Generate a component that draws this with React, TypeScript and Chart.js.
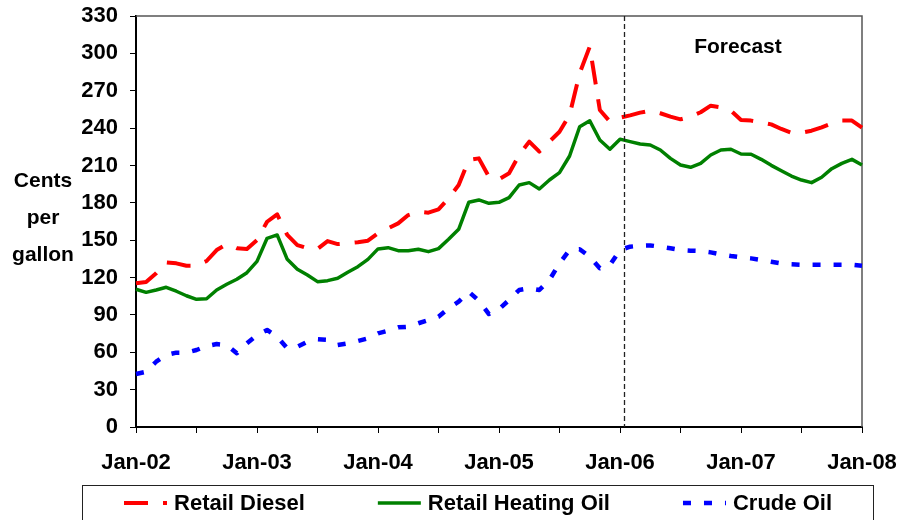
import React, { useEffect, useRef } from 'react';
import { Chart, registerables } from 'chart.js';

Chart.register(...registerables);

const FONT_FAMILY = "'Liberation Sans', Arial, Helvetica, sans-serif";

// ---- categories (monthly, Jan-02 .. Jan-08) ----
const MONTH_NAMES = ['Jan', 'Feb', 'Mar', 'Apr', 'May', 'Jun', 'Jul', 'Aug', 'Sep', 'Oct', 'Nov', 'Dec'];
const START_YEAR = 2002;
const MONTH_COUNT = 73;
const categories: string[] = [];
for (let i = 0; i < MONTH_COUNT; i++) {
  const yr = START_YEAR + Math.floor(i / 12);
  categories.push(`${MONTH_NAMES[i % 12]}-${String(yr % 100).padStart(2, '0')}`);
}

// ---- axis ----
const Y_MIN = 0;
const Y_MAX = 330;
const Y_STEP = 30;
const X_LABEL_EVERY = 12;
const X_TICK_EVERY = 6;
const yAxisTitle = ['Cents', 'per', 'gallon'];

// ---- series ----
const retailDiesel = [
  115.4, 116.4, 123.4, 132.2, 131.4, 129.5, 129.5, 133.3, 142.1, 146.9, 143.5, 142.9,
  150.1, 164.8, 170.8, 154.2, 146.1, 143.5, 143.0, 149.3, 146.9, 147.5, 148.3, 149.6,
  155.5, 159.5, 163.5, 170.2, 172.9, 172.1, 174.8, 183.6, 194.3, 214.4, 215.7, 201.0,
  198.9, 203.7, 218.4, 229.1, 221.1, 229.1, 237.1, 250.5, 284.0, 305.4, 254.5, 245.2,
  248.4, 250.2, 252.4, 254.0, 251.9, 249.2, 247.0, 249.2, 252.7, 258.0, 256.7, 254.0,
  246.5, 246.0, 244.6, 243.0, 239.3, 236.3, 236.3, 237.9, 240.6, 243.8, 246.0, 246.0,
  240.3,
];

const retailHeatingOil = [
  110.6, 108.1, 110.0, 112.2, 109.0, 105.4, 102.5, 103.0, 110.0, 114.6, 118.6, 123.9,
  133.0, 151.5, 154.2, 134.6, 126.6, 122.0, 116.7, 117.5, 119.4, 124.2, 128.7, 134.6,
  143.0, 144.0, 141.6, 141.6, 142.7, 140.8, 143.2, 150.7, 158.7, 180.4, 182.3, 179.6,
  180.4, 184.1, 194.3, 196.2, 191.1, 198.3, 204.2, 217.6, 241.1, 245.9, 230.4, 223.0,
  231.1, 229.1, 227.2, 226.4, 222.4, 215.7, 210.4, 208.5, 211.7, 218.4, 222.4, 223.0,
  219.2, 219.0, 214.9, 210.1, 205.8, 201.5, 198.3, 196.2, 200.5, 207.4, 211.7, 214.9,
  210.4,
];

const crudeOil = [
  42.6, 44.4, 52.4, 57.8, 59.7, 59.7, 61.8, 65.0, 66.6, 65.8, 59.2, 67.2,
  73.9, 77.9, 72.5, 63.2, 64.5, 68.5, 70.4, 69.9, 65.8, 67.2, 69.0, 71.2,
  75.2, 77.3, 80.0, 80.5, 83.3, 85.9, 88.6, 95.3, 100.6, 108.6, 101.4, 90.7,
  94.5, 102.0, 110.0, 111.4, 110.0, 118.0, 131.4, 142.1, 142.7, 136.7, 127.4, 130.0,
  142.1, 144.8, 145.6, 145.8, 144.8, 143.5, 142.1, 141.6, 141.3, 140.2, 138.6, 137.3,
  136.2, 135.4, 134.1, 132.7, 131.4, 130.6, 130.3, 130.3, 130.3, 130.3, 130.3, 130.3,
  129.5,
];

// ---- annotations ----
const forecastDividerIndex = 48.4; // just after Jan-06
const forecastLabel = 'Forecast';
const forecastLabelIndex = 59.7;
const forecastLabelValue = 305;

const extrasPlugin = {
  id: 'extras',
  beforeDatasetsDraw(chart: any) {
    const { ctx, chartArea } = chart;
    ctx.save();
    ctx.strokeStyle = '#555';
    ctx.lineWidth = 1.5;
    ctx.beginPath();
    ctx.moveTo(chartArea.left, chartArea.top);
    ctx.lineTo(chartArea.right, chartArea.top);
    ctx.lineTo(chartArea.right, chartArea.bottom);
    ctx.stroke();
    ctx.restore();
  },
  afterDraw(chart: any) {
    const { ctx, chartArea, scales } = chart;
    const x = scales.x;
    const y = scales.y;
    ctx.save();

    // forecast divider
    const dx = Math.round(x.getPixelForValue(forecastDividerIndex)) + 0.5;
    ctx.strokeStyle = '#222';
    ctx.lineWidth = 1.3;
    ctx.setLineDash([5, 3]);
    ctx.beginPath();
    ctx.moveTo(dx, chartArea.top);
    ctx.lineTo(dx, chartArea.bottom);
    ctx.stroke();
    ctx.setLineDash([]);

    // forecast label
    ctx.fillStyle = '#000';
    ctx.font = `bold 21px ${FONT_FAMILY}`;
    ctx.textAlign = 'center';
    ctx.textBaseline = 'middle';
    ctx.fillText(forecastLabel, x.getPixelForValue(forecastLabelIndex), y.getPixelForValue(forecastLabelValue));

    // y-axis title (horizontal, stacked)
    const midY = (chartArea.top + chartArea.bottom) / 2 - 3;
    yAxisTitle.forEach((line, k) => {
      ctx.fillText(line, 43, midY + (k - 1) * 37);
    });

    // legend
    const boxLeft = 82.5;
    const boxRight = 873.5;
    const boxTop = 485.5;
    ctx.strokeStyle = '#222';
    ctx.lineWidth = 1;
    ctx.strokeRect(boxLeft, boxTop, boxRight - boxLeft, 60);

    const sampleLen = 43;
    const textGap = 7;
    const itemGap = 73;
    ctx.font = `bold 22px ${FONT_FAMILY}`;
    const items = chart.data.datasets.map((ds: any) => {
      const tw = ctx.measureText(ds.label).width;
      return { ds, w: sampleLen + textGap + tw };
    });
    const total = items.reduce((s: number, it: any) => s + it.w, 0) + itemGap * (items.length - 1);
    let cx = (boxLeft + boxRight) / 2 - total / 2;
    const ly = 503;
    items.forEach((it: any) => {
      ctx.save();
      ctx.strokeStyle = it.ds.borderColor;
      ctx.lineWidth = it.ds.borderWidth;
      ctx.lineCap = 'butt';
      ctx.setLineDash(it.ds.borderDash || []);
      ctx.beginPath();
      ctx.moveTo(cx, ly);
      ctx.lineTo(cx + sampleLen, ly);
      ctx.stroke();
      ctx.restore();
      ctx.fillStyle = '#000';
      ctx.textAlign = 'left';
      ctx.textBaseline = 'middle';
      ctx.fillText(it.ds.label, cx + sampleLen + textGap, ly + 1);
      cx += it.w + itemGap;
    });

    ctx.restore();
  },
};

export default function App() {
  const canvasRef = useRef<HTMLCanvasElement | null>(null);

  useEffect(() => {
    if (!canvasRef.current) return;
    const font = { family: FONT_FAMILY, size: 22, weight: 'bold' as const };
    const chart = new Chart(canvasRef.current, {
      type: 'line',
      data: {
        labels: categories,
        datasets: [
          {
            label: 'Retail Diesel',
            data: retailDiesel,
            borderColor: '#ff0000',
            borderWidth: 4,
            borderDash: [24, 15],
            borderCapStyle: 'butt',
            borderJoinStyle: 'round',
            pointRadius: 0,
            tension: 0,
            fill: false,
          },
          {
            label: 'Retail Heating Oil',
            data: retailHeatingOil,
            borderColor: '#008000',
            borderWidth: 3.5,
            borderCapStyle: 'butt',
            borderJoinStyle: 'round',
            pointRadius: 0,
            tension: 0,
            fill: false,
          },
          {
            label: 'Crude Oil',
            data: crudeOil,
            borderColor: '#0000ff',
            borderWidth: 4.5,
            borderDash: [8, 13],
            borderCapStyle: 'butt',
            borderJoinStyle: 'round',
            pointRadius: 0,
            tension: 0,
            fill: false,
          },
        ],
      },
      options: {
        animation: false,
        responsive: false,
        devicePixelRatio: 1,
        layout: { padding: { top: 16, right: 40, left: 0, bottom: 0 } },
        plugins: {
          legend: { display: false },
          tooltip: { enabled: false },
        },
        scales: {
          x: {
            type: 'category',
            afterFit: (s: any) => {
              s.height = 93;
              s.paddingLeft = 0;
              s.paddingRight = 0;
            },
            grid: {
              drawOnChartArea: false,
              drawTicks: true,
              tickLength: 6,
              tickWidth: 1,
              tickColor: (c: any) => (c.index % X_TICK_EVERY === 0 ? '#000' : 'rgba(0,0,0,0)'),
            },
            border: { display: true, color: '#000', width: 2 },
            ticks: {
              autoSkip: false,
              maxRotation: 0,
              minRotation: 0,
              padding: 17,
              color: '#000',
              font,
              callback: (_v: any, i: number) => (i % X_LABEL_EVERY === 0 ? categories[i] : ''),
            },
          },
          y: {
            min: Y_MIN,
            max: Y_MAX,
            afterFit: (s: any) => {
              s.width = 136;
              s.paddingTop = 0;
              s.paddingBottom = 0;
            },
            grid: {
              drawOnChartArea: false,
              drawTicks: true,
              tickLength: 6,
              tickWidth: 1,
              tickColor: '#000',
            },
            border: { display: true, color: '#000', width: 2 },
            ticks: {
              stepSize: Y_STEP,
              padding: 12,
              color: '#000',
              font,
            },
          },
        },
      },
      plugins: [extrasPlugin],
    });
    return () => chart.destroy();
  }, []);

  return (
    <div style={{ position: 'fixed', left: 0, top: 0, width: 902, height: 520, background: '#fff' }}>
      <canvas ref={canvasRef} width={902} height={520} />
    </div>
  );
}
